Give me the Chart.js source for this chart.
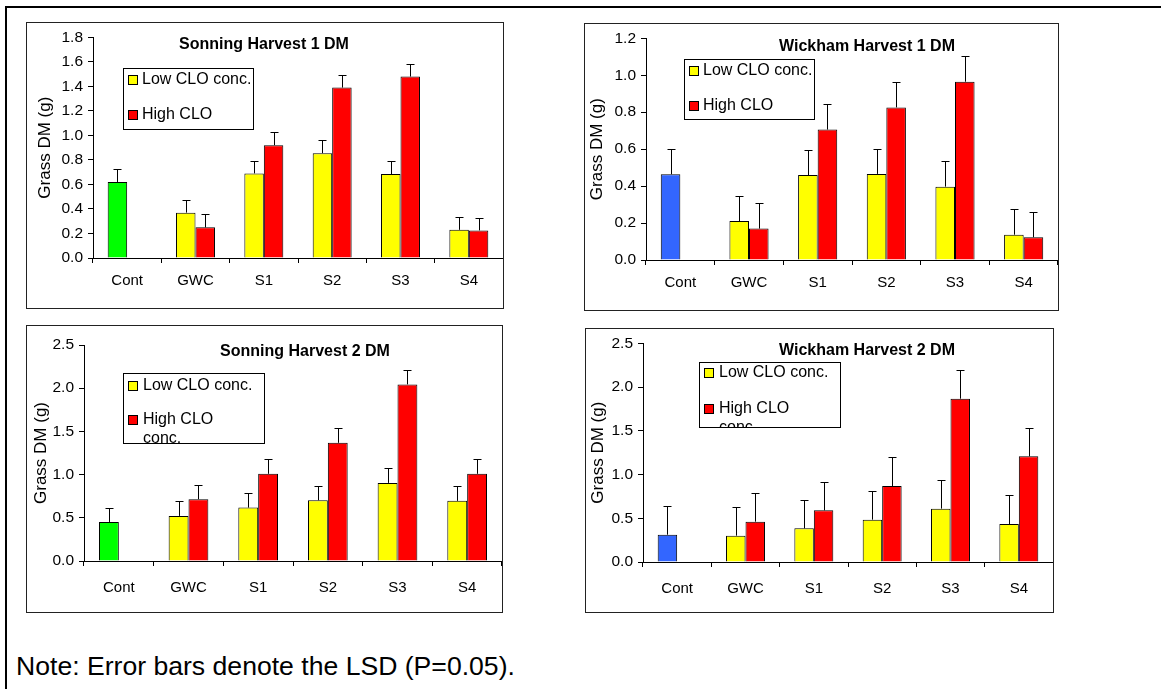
<!DOCTYPE html>
<html><head><meta charset="utf-8">
<script src="https://cdn.jsdelivr.net/npm/chart.js@4.4.0/dist/chart.umd.min.js"></script>
<style>
html,body{margin:0;padding:0;background:#fff;}
body{width:1161px;height:689px;overflow:hidden;position:relative;font-family:"Liberation Sans",Arial,sans-serif;}
#frame{position:absolute;left:5px;top:6px;width:1300px;height:900px;border-left:2px solid #000;border-top:2px solid #000;}
.panel{position:absolute;border:1px solid #222;background:#fff;box-sizing:border-box;}
.panel canvas{position:absolute;left:0;top:0;}
#note{position:absolute;left:16px;top:651px;font-size:26.6px;color:#000;white-space:nowrap;}
</style></head><body>
<div id="frame"></div>
<div class="panel" id="p1"><canvas id="c1"></canvas></div>
<div class="panel" id="p2"><canvas id="c2"></canvas></div>
<div class="panel" id="p3"><canvas id="c3"></canvas></div>
<div class="panel" id="p4"><canvas id="c4"></canvas></div>
<div id="note">Note: Error bars denote the LSD (P=0.05).</div>
<script>
// ---------- data ----------
const categories = ['Cont', 'GWC', 'S1', 'S2', 'S3', 'S4'];
const yAxisTitle = 'Grass DM (g)';
const legendLowText = ['Low CLO conc.'];

const sonH1Title = 'Sonning Harvest 1 DM';
const sonH1Low  = [0.62, 0.37, 0.69, 0.855, 0.685, 0.23];
const sonH1High = [null, 0.25, 0.92, 1.39, 1.48, 0.225];
const sonH1Lsd  = 0.105;
const sonH1YMax = 1.8, sonH1YStep = 0.2;
const sonH1HighText = ['High CLO'];

const wicH1Title = 'Wickham Harvest 1 DM';
const wicH1Low  = [0.464, 0.211, 0.46, 0.466, 0.397, 0.137];
const wicH1High = [null, 0.17, 0.706, 0.826, 0.965, 0.123];
const wicH1Lsd  = 0.137;
const wicH1YMax = 1.2, wicH1YStep = 0.2;
const wicH1HighText = ['High CLO'];

const sonH2Title = 'Sonning Harvest 2 DM';
const sonH2Low  = [0.452, 0.522, 0.618, 0.703, 0.904, 0.696];
const sonH2High = [null, 0.715, 1.009, 1.368, 2.044, 1.009];
const sonH2Lsd  = 0.167;
const sonH2YMax = 2.5, sonH2YStep = 0.5;
const sonH2HighText = ['High CLO', 'conc.'];

const wicH2Title = 'Wickham Harvest 2 DM';
const wicH2Low  = [0.312, 0.301, 0.385, 0.484, 0.61, 0.434];
const wicH2High = [null, 0.461, 0.591, 0.869, 1.867, 1.208];
const wicH2Lsd  = 0.327;
const wicH2YMax = 2.5, wicH2YStep = 0.5;
const wicH2HighText = ['High CLO', 'conc.'];

const YELLOW = '#FFFF00', RED = '#FF0000', GREEN = '#00FF00', BLUE = '#3366FF';
const FONT = '"Liberation Sans", Arial, sans-serif';

// ---------- drawing helpers ----------
const decorPlugin = {
  id: 'decor',
  afterDatasetsDraw(chart, args, o) {
    const ctx = chart.ctx, ys = chart.scales.y;
    ctx.save();
    ctx.strokeStyle = '#000'; ctx.lineWidth = 1;
    chart.data.datasets.forEach((ds, i) => {
      const meta = chart.getDatasetMeta(i);
      meta.data.forEach((bar, j) => {
        const v = ds.data[j];
        if (v == null) return;
        const yT = Math.round(ys.getPixelForValue(v + o.lsd)) + 0.5;
        const x = Math.round(bar.x) + 0.5;
        ctx.beginPath();
        ctx.moveTo(x, bar.y); ctx.lineTo(x, yT);
        ctx.moveTo(x - 4, yT); ctx.lineTo(x + 4, yT);
        ctx.stroke();
      });
    });
    ctx.restore();
  },
  afterDraw(chart, args, o) {
    const ctx = chart.ctx;
    ctx.save();
    ctx.fillStyle = '#000';
    ctx.font = 'bold 16px ' + FONT;
    ctx.textAlign = 'center'; ctx.textBaseline = 'middle';
    ctx.fillText(o.title, o.titleX, o.titleY);
    const L = o.legend;
    ctx.fillStyle = '#fff';
    ctx.fillRect(L.x, L.y, L.w, L.h);
    ctx.save();
    ctx.beginPath(); ctx.rect(L.x, L.y, L.w, L.h); ctx.clip();
    ctx.font = '16px ' + FONT;
    ctx.textAlign = 'left'; ctx.textBaseline = 'middle';
    const entries = [[YELLOW, legendLowText, L.y1], [RED, o.highText, L.y2]];
    entries.forEach(([col, lines, yc]) => {
      ctx.fillStyle = col;
      ctx.fillRect(L.sx + 0.5, yc - 4.5, 9, 9);
      ctx.strokeStyle = '#000'; ctx.lineWidth = 1;
      ctx.strokeRect(L.sx + 0.5, yc - 4.5, 9, 9);
      ctx.fillStyle = '#000';
      lines.forEach((t, k) => ctx.fillText(t, L.tx, yc + k * 19));
    });
    ctx.restore();
    ctx.strokeStyle = '#000'; ctx.lineWidth = 1;
    ctx.strokeRect(L.x + 0.5, L.y + 0.5, L.w - 1, L.h - 1);
    ctx.restore();
  }
};

function makePanel(divId, canvasId, P) {
  const div = document.getElementById(divId);
  div.style.left = P.box.x + 'px'; div.style.top = P.box.y + 'px';
  div.style.width = P.box.w + 'px'; div.style.height = P.box.h + 'px';
  const cw = P.box.w - 2, ch = P.box.h - 2;
  const cv = document.getElementById(canvasId);
  cv.width = cw; cv.height = ch;
  cv.style.width = cw + 'px'; cv.style.height = ch + 'px';
  const ox = P.box.x + 1, oy = P.box.y + 1;
  const yAxisW = P.axisX - ox;
  const areaTop = P.yTop - oy;
  const xAxisH = ch - (P.yBot - oy);
  const lg = P.legend;
  new Chart(cv, {
    type: 'bar',
    data: {
      labels: categories,
      datasets: [
        { label: legendLowText.join(' '), data: P.low,
          backgroundColor: P.low.map((v, i) => i === 0 ? P.contColor : YELLOW),
          borderColor: '#000', borderWidth: 1, borderSkipped: 'bottom' },
        { label: P.highText.join(' '), data: P.high,
          backgroundColor: RED, borderColor: '#000', borderWidth: 1, borderSkipped: 'bottom' }
      ]
    },
    options: {
      responsive: false, animation: false, devicePixelRatio: 1,
      layout: { padding: { top: areaTop, left: 0, right: 0, bottom: 0 } },
      categoryPercentage: 0.57, barPercentage: 1.0,
      plugins: {
        legend: { display: false }, tooltip: { enabled: false },
        decor: {
          lsd: P.lsd, title: P.title, titleX: P.titleX - ox, titleY: P.titleY - oy,
          highText: P.highText,
          legend: { x: lg.x - ox, y: lg.y - oy, w: lg.w, h: lg.h, sx: lg.sx - ox, tx: lg.tx - ox,
                    y1: lg.y1 - oy, y2: lg.y2 - oy }
        }
      },
      scales: {
        x: {
          offset: true,
          grid: { display: true, drawOnChartArea: false, drawTicks: true, tickLength: 5, color: '#000', offset: true },
          border: { display: true, color: '#000', width: 1 },
          ticks: { color: '#000', font: { family: FONT, size: 15 }, padding: P.catPad, maxRotation: 0, autoSkip: false },
          afterFit(s) { s.height = xAxisH; }
        },
        y: {
          min: 0, max: P.yMax,
          grid: { display: true, drawOnChartArea: false, drawTicks: true, tickLength: 5, color: '#000' },
          border: { display: true, color: '#000', width: 1 },
          ticks: { stepSize: P.yStep, color: '#000', font: { family: FONT, size: 15.5 }, padding: 5,
                   callback: v => Number(v).toFixed(1) },
          title: { display: true, text: yAxisTitle, color: '#000', font: { family: FONT, size: 17 },
                   padding: { top: P.yTitlePad, bottom: 0 } },
          afterFit(s) { s.width = yAxisW; }
        }
      }
    },
    plugins: [decorPlugin]
  });
}

makePanel('p1', 'c1', {
  box: { x: 26, y: 22, w: 478, h: 287 }, axisX: 93, yTop: 37, yBot: 258,
  low: sonH1Low, high: sonH1High, lsd: sonH1Lsd, yMax: sonH1YMax, yStep: sonH1YStep,
  contColor: GREEN, title: sonH1Title, titleX: 264, titleY: 45, highText: sonH1HighText,
  yTitlePad: 8, catPad: 9,
  legend: { x: 123, y: 68, w: 131, h: 62, sx: 128, tx: 142, y1: 80, y2: 115 }
});
makePanel('p2', 'c2', {
  box: { x: 584, y: 23, w: 475, h: 288 }, axisX: 646, yTop: 38, yBot: 260,
  low: wicH1Low, high: wicH1High, lsd: wicH1Lsd, yMax: wicH1YMax, yStep: wicH1YStep,
  contColor: BLUE, title: wicH1Title, titleX: 867, titleY: 47, highText: wicH1HighText,
  yTitlePad: 2, catPad: 9,
  legend: { x: 684, y: 59, w: 131, h: 61, sx: 689, tx: 703, y1: 71, y2: 106 }
});
makePanel('p3', 'c3', {
  box: { x: 26, y: 325, w: 477, h: 288 }, axisX: 84, yTop: 345, yBot: 561,
  low: sonH2Low, high: sonH2High, lsd: sonH2Lsd, yMax: sonH2YMax, yStep: sonH2YStep,
  contColor: GREEN, title: sonH2Title, titleX: 305, titleY: 352, highText: sonH2HighText,
  yTitlePad: 4, catPad: 13,
  legend: { x: 123, y: 373, w: 142, h: 71, sx: 128, tx: 143, y1: 386, y2: 420 }
});
makePanel('p4', 'c4', {
  box: { x: 585, y: 328, w: 469, h: 285 }, axisX: 643, yTop: 343, yBot: 562,
  low: wicH2Low, high: wicH2High, lsd: wicH2Lsd, yMax: wicH2YMax, yStep: wicH2YStep,
  contColor: BLUE, title: wicH2Title, titleX: 867, titleY: 351, highText: wicH2HighText,
  yTitlePad: 2, catPad: 13,
  legend: { x: 699, y: 362, w: 142, h: 66, sx: 704, tx: 719, y1: 373, y2: 409 }
});
</script>
</body></html>
